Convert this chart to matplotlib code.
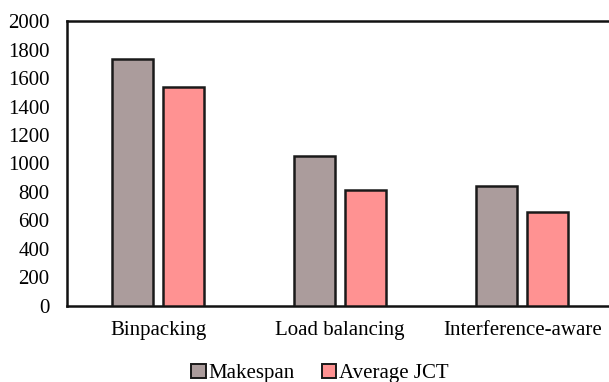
import numpy as np
from matplotlib import pyplot as plt
from matplotlib.patches import Patch

plt.rcParams['font.family'] = ['Liberation Serif', 'DejaVu Serif']

categories = ['Binpacking', 'Load balancing', 'Interference-aware']
makespan = [1730, 1053, 842]
avg_jct = [1535, 814, 662]
y_ticks = [0, 200, 400, 600, 800, 1000, 1200, 1400, 1600, 1800, 2000]

c_makespan = '#ab9c9c'
c_jct = '#ff9292'

fig = plt.figure(figsize=(6.09, 3.82), dpi=100)
ax = fig.add_axes([0.110, 0.199, 0.897, 0.746])

x = np.arange(len(categories))
w = 0.225
ax.bar(x - 0.14, makespan, w, color=c_makespan, edgecolor='#1a1a1a', linewidth=1.8, zorder=3)
ax.bar(x + 0.14, avg_jct, w, color=c_jct, edgecolor='#1a1a1a', linewidth=1.8, zorder=3)

ax.set_xlim(-0.5, 2.5)
ax.set_ylim(0, 2000)
ax.set_yticks(y_ticks)
ax.set_xticks(x)
ax.set_xticklabels(categories)
ax.tick_params(axis='both', length=0, labelsize=15)
ax.tick_params(axis='x', pad=11)
ax.tick_params(axis='y', pad=12.5)
for s in ax.spines.values():
    s.set_linewidth(1.8)
    s.set_color('#111111')

handles = [Patch(facecolor=c_makespan, edgecolor='#1a1a1a', linewidth=1.4, label='Makespan'),
           Patch(facecolor=c_jct, edgecolor='#1a1a1a', linewidth=1.4, label='Average JCT')]
fig.legend(handles=handles, loc='center', bbox_to_anchor=(0.525, 0.022), ncol=2,
           frameon=False, fontsize=15, handlelength=0.7, handleheight=0.7,
           handletextpad=0.12, columnspacing=1.3, borderpad=0)

fig.savefig('out.png', dpi=100)
